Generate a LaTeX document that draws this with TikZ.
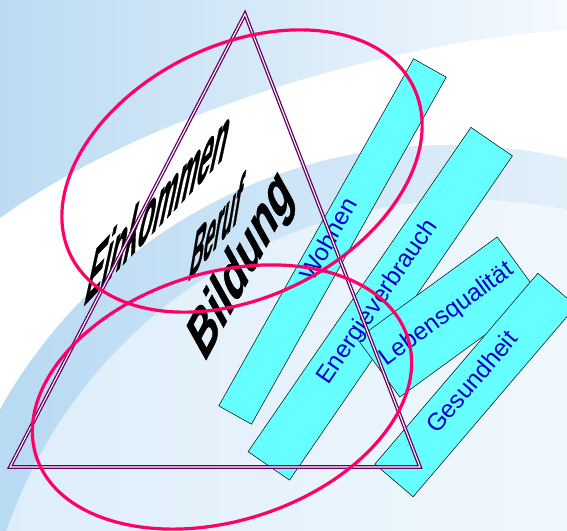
\documentclass[tikz,border=0pt]{standalone}
\usepackage{fontspec}
\setmainfont{Liberation Sans}
\newfontfamily\heavyfont[FakeBold=1.2]{Liberation Sans Bold}
\definecolor{barcyan}{HTML}{66FFFF}
\definecolor{ellred}{HTML}{FF0066}
\definecolor{tripurple}{HTML}{660066}
\definecolor{txtblue}{HTML}{0000CC}
\definecolor{bgblue}{HTML}{B3D7F2}
\definecolor{bgmid}{HTML}{DCEDFA}
\definecolor{bgtop}{HTML}{BCDBF2}
\definecolor{bgtopr}{HTML}{F5FAFE}
\begin{document}
\begin{tikzpicture}[x=1pt,y=-1pt,
  bar/.style={draw=black, line width=0.5pt, fill=barcyan, rectangle, inner sep=0pt},
  bartext/.style={text=txtblue, font=\fontsize{24.5pt}{26pt}\selectfont, inner sep=0pt, text height=0.716em, text depth=0pt},
  ring/.style={draw=ellred, line width=3.2pt},
  tri/.style={draw=tripurple, double=white, double distance=1.1pt, line width=1.3pt, line join=miter},
  bigtext/.style={font=\heavyfont\fontsize{10pt}{12pt}\selectfont, inner sep=0pt, anchor=base west, transform shape}
]
\useasboundingbox (0,0) rectangle (567,530);
\clip (0,0) rectangle (567,530);
% background
\fill[white] (0,0) rectangle (567,530);
\shade[left color=bgtop, right color=bgtopr] (0,0) -- (567,0) -- (567,30) .. controls (400,40) and (150,110) .. (0,218) -- cycle;
\shade[left color=bgblue, right color=white] (450,660) circle (515pt);
\shade[left color=bgmid, right color=white] (470,690) circle (490pt);
% bars
\node[bar, minimum width=398pt, minimum height=37.5pt, rotate=60.7] (wohnen) at (332.5,241.5) {};
\node[bar, minimum width=393.5pt, minimum height=50.3pt, rotate=55.5] (energie) at (380.25,303.75) {};
\node[bar, minimum width=173pt, minimum height=72pt, rotate=36.1] (leben) at (448.5,317) {};
\node[bar, minimum width=251pt, minimum height=50.3pt, rotate=49.5] (gesund) at (475.5,385) {};
% bar texts
\node[bartext, rotate=60.7] (twohnen) at (wohnen.center) {Wohnen};
\node[bartext, rotate=55.5] (tenergie) at (energie.center) {Energieverbrauch};
\node[bartext, rotate=36.1] (tleben) at (leben.center) {Lebensqualität};
\node[bartext, rotate=49.5] (tgesund) at (gesund.center) {Gesundheit};
% black texts
\begin{scope}[shift={(82,308)}, cm={2.48,2.62,1.8,8.3,(0,0)}]
\node[bigtext] (einkommen) at (0,0) {Einkommen};
\end{scope}
\begin{scope}[shift={(187,283)}, cm={1.92,2.33,1.2,7.2,(0,0)}]
\node[bigtext] (beruf) at (0,0) {Beruf};
\end{scope}
\begin{scope}[shift={(204,364)}, cm={2.4,4.5,-2.8,5.0,(0,0)}]
\node[bigtext] (bildung) at (0,0) {Bildung};
\end{scope}
% triangle
\coordinate (apex) at (245,14);
\coordinate (bl) at (10,467);
\coordinate (br) at (420,467);
\draw[tri] (apex) -- (br) -- (bl) -- cycle;
% ellipses
\draw[ring, rotate around={26.3:(242,171)}] (242,171) ellipse [x radius=191pt, y radius=126pt];
\draw[ring, rotate around={17.6:(222,397)}] (222,397) ellipse [x radius=195pt, y radius=124pt];
\end{tikzpicture}
\end{document}
